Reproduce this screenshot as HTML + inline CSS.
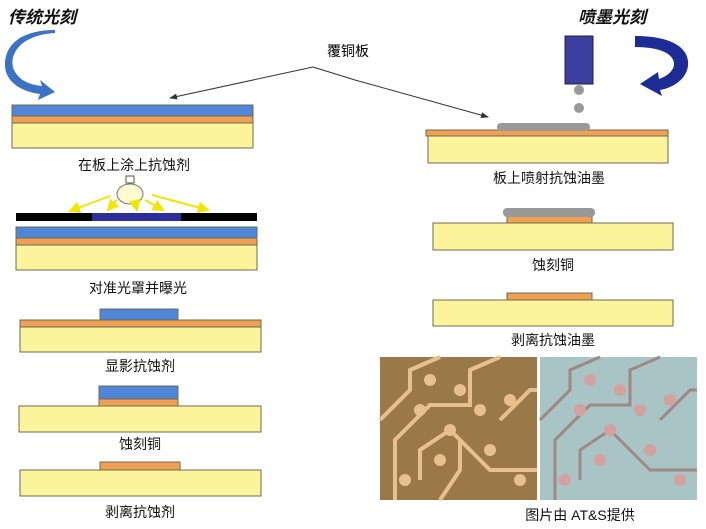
<!DOCTYPE html>
<html><head><meta charset="utf-8"><style>
body{margin:0;background:#fff;}
svg{display:block;font-family:"Liberation Sans","Noto Sans CJK SC",sans-serif;}
</style></head><body>
<svg width="706" height="529" viewBox="0 0 706 529">
<defs>
<marker id="ah" markerWidth="8" markerHeight="6" refX="7" refY="3" orient="auto"><path d="M0,0 L8,3 L0,6z" fill="#333"/></marker>
<marker id="ya" markerWidth="6" markerHeight="6" refX="5" refY="3" orient="auto"><path d="M0,0 L6,3 L0,6z" fill="#f2e600"/></marker>
</defs>
<g stroke="#6b6b50" stroke-width="1">
<!-- left stack 1 -->
<rect x="12" y="105" width="241" height="11" fill="#4f86d8"/>
<rect x="12" y="116" width="241" height="7" fill="#f0a055"/>
<rect x="12" y="123" width="241" height="25" fill="#fbf49a"/>
<!-- mask -->
<rect x="16" y="213" width="241" height="8" fill="#000" stroke="none"/>
<rect x="92" y="213" width="89" height="8" fill="#2a2f9a" stroke="none"/>
<rect x="16" y="227" width="241" height="11" fill="#4f86d8"/>
<rect x="16" y="238" width="241" height="7" fill="#f0a055"/>
<rect x="16" y="245" width="241" height="25" fill="#fbf49a"/>
<!-- stack 3 -->
<rect x="100" y="309" width="78" height="11" fill="#4f86d8"/>
<rect x="20" y="320" width="241" height="7" fill="#f0a055"/>
<rect x="20" y="327" width="241" height="25" fill="#fbf49a"/>
<!-- stack 4 -->
<rect x="99" y="386" width="79" height="13" fill="#4f86d8"/>
<rect x="99" y="399" width="79" height="7" fill="#f0a055"/>
<rect x="19" y="406" width="242" height="26" fill="#fbf49a"/>
<!-- stack 5 -->
<rect x="100" y="462" width="80" height="8" fill="#f0a055"/>
<rect x="20" y="470" width="241" height="26" fill="#fbf49a"/>
<!-- right -->
<rect x="426" y="130" width="242" height="6" fill="#f0a055"/>
<rect x="428" y="136" width="240" height="27" fill="#fbf49a"/>
<rect x="507" y="216" width="85" height="7" fill="#f0a055"/>
<rect x="433" y="223" width="240" height="27" fill="#fbf49a"/>
<rect x="507" y="293" width="85" height="7" fill="#f0a055"/>
<rect x="433" y="300" width="240" height="26" fill="#fbf49a"/>
</g>
<!-- ink -->
<rect x="497" y="123" width="93" height="8" rx="4" fill="#999"/>
<rect x="503" y="208" width="92" height="9" rx="4" fill="#999"/>
<rect x="565" y="36" width="28" height="48" fill="#3a3fa0" stroke="#223" />
<circle cx="579" cy="90" r="5" fill="#999"/>
<circle cx="579" cy="108" r="5" fill="#999"/>
<!-- bulb -->
<ellipse cx="130" cy="194" rx="13" ry="10" fill="#fdfbd0" stroke="#777"/>
<rect x="126" y="176" width="8" height="7" fill="#fff" stroke="#555"/>
<g stroke="#f2e600" stroke-width="2" marker-end="url(#ya)">
<line x1="110" y1="196" x2="70" y2="211"/>
<line x1="117" y1="200" x2="108" y2="210"/>
<line x1="135" y1="202" x2="137" y2="210"/>
<line x1="145" y1="200" x2="163" y2="210"/>
<line x1="152" y1="195" x2="208" y2="210"/>
</g>
<!-- 覆铜板 arrows -->
<text x="327" y="56" font-size="14">覆铜板</text>
<polyline points="313,67 170,98" fill="none" stroke="#333" marker-end="url(#ah)"/>
<polyline points="313,67 355,80 488,117" fill="none" stroke="#333" marker-end="url(#ah)"/>
<!-- titles -->
<text x="8" y="23" font-size="17" font-weight="bold" font-style="italic" fill="#111">传统光刻</text>
<text x="578" y="23" font-size="17" font-weight="bold" font-style="italic" fill="#111">喷墨光刻</text>
<!-- curved arrows -->
<path d="M55,33 C20,35 8,55 14,70 C20,82 32,85 42,86 L40,80 L55,92 L38,100 L40,94 C22,92 5,82 5,65 C5,42 25,30 55,30z" fill="#3a72c4"/>
<path d="M635,36 C675,36 690,50 688,66 C686,80 672,88 660,90 L662,96 L640,84 L658,72 L659,79 C668,76 674,70 674,64 C674,54 660,47 635,47z" fill="#1c2c94"/>
<!-- labels -->
<g font-size="14" text-anchor="middle" fill="#111">
<text x="134" y="170">在板上涂上抗蚀剂</text>
<text x="138" y="293">对准光罩并曝光</text>
<text x="140" y="371">显影抗蚀剂</text>
<text x="140" y="449">蚀刻铜</text>
<text x="140" y="517">剥离抗蚀剂</text>
<text x="549" y="183">板上喷射抗蚀油墨</text>
<text x="553" y="270">蚀刻铜</text>
<text x="553" y="345">剥离抗蚀油墨</text>
<text x="580" y="520">图片由 AT&amp;S提供</text>
</g>
<!-- photos -->
<rect x="380" y="357" width="157" height="143" fill="#9a7848"/>
<g stroke="#e8c090" stroke-width="4" fill="none">
<path d="M380,420 L410,390 L410,370 L440,357"/><path d="M395,500 L395,440 L430,405 L470,405 L470,370 L500,357"/>
<path d="M420,480 L420,450 L450,430 L490,470 L537,470"/><path d="M440,500 L460,470 L460,440"/><path d="M500,420 L530,390 L537,390"/>
</g>
<g fill="#e8c090"><circle cx="420" cy="410" r="6"/><circle cx="450" cy="430" r="6"/><circle cx="480" cy="410" r="6"/><circle cx="440" cy="460" r="6"/><circle cx="490" cy="450" r="6"/><circle cx="405" cy="480" r="6"/><circle cx="510" cy="400" r="6"/><circle cx="460" cy="390" r="6"/><circle cx="520" cy="480" r="6"/><circle cx="430" cy="380" r="6"/></g>
<rect x="540" y="357" width="157" height="143" fill="#a8c4c4"/>
<g stroke="#a08888" stroke-width="3" fill="none">
<path d="M540,420 L570,390 L570,370 L600,357"/><path d="M555,500 L555,440 L590,405 L630,405 L630,370 L660,357"/>
<path d="M580,480 L580,450 L610,430 L650,470 L697,470"/><path d="M660,420 L690,390 L697,390"/>
</g>
<g fill="#d4a0a0"><circle cx="580" cy="410" r="6"/><circle cx="610" cy="430" r="6"/><circle cx="640" cy="410" r="6"/><circle cx="600" cy="460" r="6"/><circle cx="650" cy="450" r="6"/><circle cx="565" cy="480" r="6"/><circle cx="670" cy="400" r="6"/><circle cx="620" cy="390" r="6"/><circle cx="680" cy="480" r="6"/><circle cx="590" cy="380" r="6"/></g>
</svg>
</body></html>
